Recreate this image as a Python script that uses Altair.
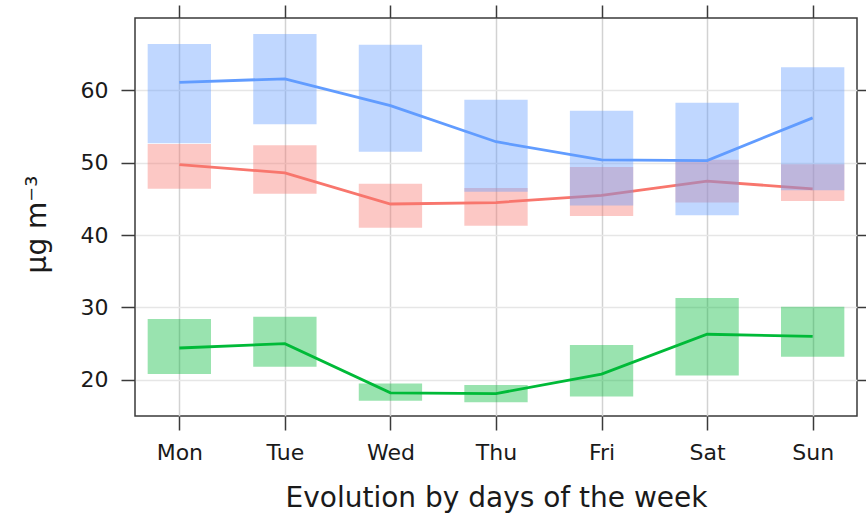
import altair as alt
import pandas as pd

days = ["Mon", "Tue", "Wed", "Thu", "Fri", "Sat", "Sun"]

blue_mean = [61.1, 61.6, 57.9, 52.9, 50.4, 50.3, 56.2]
blue_lo = [52.7, 55.3, 51.5, 46.0, 44.1, 42.75, 46.2]
blue_hi = [66.4, 67.8, 66.3, 58.7, 57.2, 58.3, 63.2]

red_mean = [49.75, 48.6, 44.3, 44.5, 45.5, 47.45, 46.4]
red_lo = [46.4, 45.7, 41.0, 41.3, 42.65, 44.5, 44.7]
red_hi = [52.6, 52.4, 47.1, 46.5, 49.4, 50.4, 49.8]

green_mean = [24.4, 25.0, 18.2, 18.1, 20.8, 26.3, 26.0]
green_lo = [20.8, 21.8, 17.1, 16.9, 17.7, 20.6, 23.2]
green_hi = [28.4, 28.7, 19.5, 19.3, 24.8, 31.3, 30.1]

series = [
    ("red", "#F8766D", red_mean, red_lo, red_hi),
    ("green", "#00BA38", green_mean, green_lo, green_hi),
    ("blue", "#619CFF", blue_mean, blue_lo, blue_hi),
]

rows = []
for name, col, m, lo, hi in series:
    for i, d in enumerate(days):
        rows.append({"series": name, "day": d, "idx": i + 1,
                     "mean": m[i], "lo": lo[i], "hi": hi[i]})
df = pd.DataFrame(rows)

FONT = "DejaVu Sans"
AX = "#3a3a3a"
TXT = "#1a1a1a"
xscale = alt.Scale(domain=[0.58, 7.42], nice=False, zero=False)
yscale = alt.Scale(domain=[15, 70], nice=False, zero=False)
label_expr = "['Mon','Tue','Wed','Thu','Fri','Sat','Sun'][datum.value - 1]"

base = alt.Chart(df).transform_calculate(
    x0="datum.idx - 0.3", x1="datum.idx + 0.3"
)

x_bottom = alt.Axis(
    orient="bottom", values=[1, 2, 3, 4, 5, 6, 7], labelExpr=label_expr,
    title="Evolution by days of the week", grid=True, gridColor="#d2d2d2",
    gridWidth=1.5, domain=False, tickColor=AX, tickWidth=1.5, tickSize=14,
    labelPadding=12, labelFontSize=22, labelFont=FONT, labelColor=TXT,
    titleFont=FONT, titleFontSize=28, titleFontWeight="normal", titleColor=TXT,
    titleY=90, titleBaseline="alphabetic",
)
y_left = alt.Axis(
    orient="left", values=[20, 30, 40, 50, 60], title="μg m⁻³", grid=True,
    gridColor="#e6e6e6", gridWidth=1.5, domain=False, tickColor=AX, tickWidth=1.5,
    tickSize=14, labelPadding=13, labelFontSize=22, labelFont=FONT,
    labelColor=TXT, titleFont=FONT, titleFontSize=28, titleFontWeight="normal",
    titleColor=TXT, titleX=-90, titleY=206, titleBaseline="alphabetic",
    titleAngle=-90, titleAlign="center",
)
x_top = alt.Axis(
    orient="top", values=[1, 2, 3, 4, 5, 6, 7], labels=False, title=None,
    grid=False, domain=False, tickColor=AX, tickWidth=1.5, tickSize=13,
)
y_right = alt.Axis(
    orient="right", values=[20, 30, 40, 50, 60], labels=False, title=None,
    grid=False, domain=False, tickColor=AX, tickWidth=1.5, tickSize=13,
)

layers = []
first = True
for name, col, m, lo, hi in series:
    f = base.transform_filter(alt.datum.series == name)
    rect = f.mark_rect(color=col, opacity=0.4).encode(
        x=alt.X("x0:Q", scale=xscale, axis=x_bottom if first else None),
        x2="x1:Q",
        y=alt.Y("lo:Q", scale=yscale, axis=y_left if first else None),
        y2="hi:Q",
    )
    line = f.mark_line(color=col, strokeWidth=2.8).encode(
        x=alt.X("idx:Q", scale=xscale, axis=None),
        y=alt.Y("mean:Q", scale=yscale, axis=None),
        order="idx:Q",
    )
    layers += [rect, line]
    first = False

axes_layer = base.mark_point(opacity=0).encode(
    x=alt.X("idx:Q", scale=xscale, axis=x_top),
    y=alt.Y("mean:Q", scale=yscale, axis=y_right),
)
layers.append(axes_layer)

chart = alt.layer(*layers).resolve_axis(
    x="independent", y="independent"
).properties(
    width=722, height=398,
    autosize=alt.AutoSizeParams(type="none"),
    padding={"left": 135, "top": 18, "right": 9, "bottom": 97},
).configure_view(
    stroke=AX, strokeWidth=1.5
)

chart.save("out.html", embed_options={"renderer": "svg", "actions": False})
